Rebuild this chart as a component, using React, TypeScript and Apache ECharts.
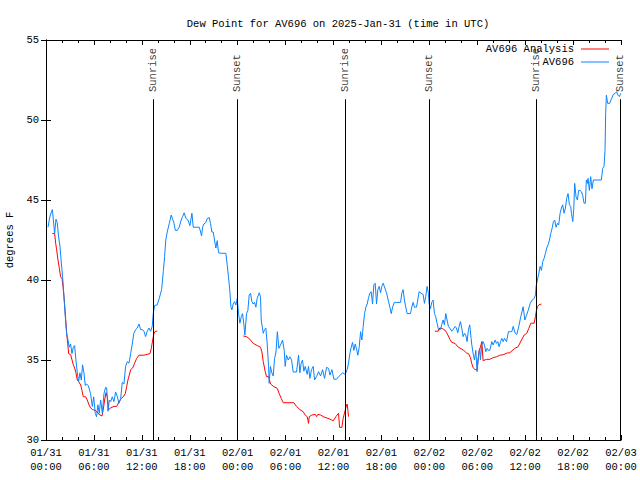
import React, { useEffect, useRef } from "react";
import * as echarts from "echarts";

const TITLE = "Dew Point for AV696 on 2025-Jan-31 (time in UTC)";
const Y_NAME = "degrees F";

// x values are hours since 2025-01-31 00:00 UTC
const xTickLabels = [
  "01/31\n00:00", "01/31\n06:00", "01/31\n12:00", "01/31\n18:00",
  "02/01\n00:00", "02/01\n06:00", "02/01\n12:00", "02/01\n18:00",
  "02/02\n00:00", "02/02\n06:00", "02/02\n12:00", "02/02\n18:00",
  "02/03\n00:00",
];

const sunHours = [13.43, 23.95, 37.46, 47.98, 61.37, 71.92];
const sunLabels = ["Sunrise", "Sunset", "Sunrise", "Sunset", "Sunrise", "Sunset"];

const analysisSeg1 = [
  [0.8, 42.9], [1.08, 42.9], [1.21, 42.3], [1.33, 41.9], [1.5, 41.25], [1.67, 40.73], [1.83, 40.2], [2.0, 40.1],
  [2.13, 39.6], [2.25, 38.96], [2.38, 38.1], [2.5, 37.3], [2.59, 36.67], [2.71, 36.04], [2.84, 35.4], [3.09, 35.33],
  [3.26, 35.0], [3.42, 34.7], [3.59, 34.5], [3.75, 34.2], [3.92, 33.75], [4.09, 33.65], [4.34, 33.44], [4.5, 33.1],
  [4.67, 32.7], [4.96, 32.7], [5.17, 32.5], [5.34, 32.25], [5.59, 32.0], [5.84, 31.9], [6.26, 31.83], [6.51, 31.67],
  [6.76, 31.56], [7.01, 31.5], [7.17, 31.9], [7.34, 32.5], [7.51, 32.96], [7.68, 32.7], [7.84, 31.9], [8.09, 32.0],
  [8.51, 32.1], [8.84, 32.1], [9.01, 32.25], [9.18, 32.4], [9.43, 32.6], [9.68, 32.7], [9.93, 32.9], [10.1, 33.33],
  [10.26, 33.75], [10.43, 34.06], [10.6, 34.4], [10.85, 34.5], [11.1, 34.8], [11.35, 35.1], [11.64, 35.3], [12.27, 35.3],
  [13.02, 35.4], [13.19, 35.73], [13.36, 36.25], [13.52, 36.67], [13.69, 36.8], [13.94, 36.8],
];
const analysisSeg2 = [
  [24.7, 36.5], [25.11, 36.46], [25.53, 36.3], [25.95, 36.04], [26.45, 35.9], [26.87, 35.8], [27.03, 35.52], [27.2, 34.9],
  [27.45, 34.27], [27.62, 33.96], [27.87, 33.96], [28.12, 33.5], [28.54, 33.33], [28.96, 33.23], [29.2, 32.9], [29.46, 32.6],
  [29.7, 32.33], [31.04, 32.33], [31.37, 32.1], [31.79, 31.9], [32.2, 31.77], [32.46, 31.56], [32.71, 31.46], [32.87, 31.04],
  [32.96, 31.46], [33.29, 31.56], [33.71, 31.6], [33.88, 31.46], [34.04, 31.6], [34.38, 31.56], [34.8, 31.44], [35.3, 31.35],
  [35.72, 31.27], [35.97, 31.2], [36.3, 31.46], [36.63, 31.67], [36.76, 30.79], [37.05, 30.79], [37.21, 31.35], [37.46, 31.85],
  [37.55, 32.04], [37.71, 32.25], [37.8, 31.85], [37.88, 31.46],
];
const analysisSeg3 = [
  [48.69, 36.8], [49.1, 36.8], [49.31, 37.0], [49.64, 36.96], [49.93, 36.88], [50.14, 36.73], [50.39, 36.5], [50.56, 36.3],
  [50.81, 36.1], [51.22, 36.04], [51.56, 35.83], [51.98, 35.7], [52.31, 35.6], [52.65, 35.44], [52.9, 35.4], [53.15, 35.15],
  [53.32, 34.77], [53.48, 34.52], [53.73, 34.4], [53.98, 34.4], [54.1, 35.0], [54.23, 35.6], [54.4, 35.8], [54.57, 36.15],
  [54.73, 34.96], [55.15, 35.04], [55.57, 35.04], [55.99, 35.15], [56.41, 35.2], [56.83, 35.3], [57.24, 35.33], [57.74, 35.44],
  [58.07, 35.45], [58.7, 35.73], [59.12, 35.83], [59.54, 36.25], [59.87, 36.56], [60.2, 36.67], [60.46, 36.98], [60.71, 37.3],
  [61.12, 37.3], [61.29, 37.71], [61.41, 38.1], [61.54, 38.33], [61.7, 38.44], [62.04, 38.5],
];

const stationData = [
  [0.25, 43.3], [0.5, 44.0], [0.8, 44.4], [0.92, 43.75], [1.08, 42.9], [1.25, 43.8], [1.4, 43.6], [1.58, 42.7], [1.75, 42.1],
  [1.92, 41.06], [2.08, 40.2], [2.25, 38.96], [2.42, 37.7], [2.58, 36.67], [2.75, 36.25], [2.92, 35.8], [3.08, 36.0], [3.25, 35.4],
  [3.42, 35.8], [3.58, 35.9], [3.75, 35.0], [3.92, 34.2], [4.08, 33.65], [4.25, 34.2], [4.42, 33.75], [4.58, 34.7], [4.75, 34.2],
  [4.92, 33.4], [5.08, 33.5], [5.3, 33.4], [5.58, 32.9], [5.8, 32.1], [5.97, 32.7], [6.17, 31.67], [6.33, 31.45], [6.5, 32.2],
  [6.67, 31.67], [6.84, 32.5], [7.05, 31.7], [7.26, 32.9], [7.47, 33.3], [7.6, 33.25], [7.76, 31.8], [7.93, 32.5], [8.1, 32.4],
  [8.3, 32.7], [8.5, 32.4], [8.72, 33.0], [8.93, 32.7], [9.14, 32.3], [9.35, 32.6], [9.55, 33.6], [9.76, 33.5], [9.97, 34.6],
  [10.18, 34.9], [10.39, 34.8], [10.6, 35.4], [10.8, 36.0], [11.0, 36.67], [11.22, 36.9], [11.43, 37.0], [11.64, 37.25],
  [11.85, 36.9], [12.06, 36.9], [12.27, 36.8], [12.47, 36.46], [12.68, 36.8], [12.89, 37.0], [13.1, 36.8], [13.3, 37.1],
  [13.43, 37.9], [13.6, 38.4], [13.93, 38.45], [14.18, 38.85], [14.48, 39.4], [14.7, 40.6], [14.85, 41.46], [15.0, 42.5],
  [15.18, 43.0], [15.44, 43.54], [15.68, 44.06], [15.85, 43.8], [16.0, 43.6], [16.2, 43.1], [16.43, 43.1], [16.68, 43.3],
  [16.93, 43.75], [17.1, 43.96], [17.3, 44.2], [17.52, 43.85], [17.77, 43.75], [18.02, 43.4], [18.27, 44.17], [18.44, 43.3],
  [18.86, 43.3], [19.19, 43.3], [19.36, 43.0], [19.48, 42.75], [19.61, 43.3], [19.77, 43.5], [20.02, 43.6], [20.19, 43.85],
  [20.44, 43.9], [20.6, 43.54], [20.77, 43.0], [20.94, 43.0], [21.1, 42.5], [21.27, 42.0], [21.44, 42.46], [21.6, 41.7],
  [21.98, 41.67], [22.52, 41.67], [22.7, 40.9], [22.85, 40.2], [23.03, 39.27], [23.15, 38.33], [23.28, 38.13], [23.44, 38.5],
  [23.61, 38.65], [23.78, 38.44], [23.95, 38.85], [24.11, 37.9], [24.28, 37.3], [24.45, 37.7], [24.61, 37.9], [24.78, 37.2],
  [24.9, 36.56], [25.11, 37.9], [25.28, 38.1], [25.44, 39.06], [25.61, 39.17], [25.78, 38.65], [25.94, 38.5], [26.11, 38.6],
  [26.28, 38.3], [26.44, 38.85], [26.7, 39.2], [26.86, 38.96], [26.95, 37.5], [27.2, 36.67], [27.36, 36.9], [27.53, 37.0],
  [27.7, 36.0], [27.87, 34.6], [27.95, 33.54], [28.1, 34.6], [28.28, 34.2], [28.45, 34.0], [28.62, 35.1], [28.8, 35.5],
  [28.97, 36.77], [29.16, 35.73], [29.37, 35.94], [29.62, 36.25], [29.83, 35.6], [29.95, 34.6], [30.12, 35.3], [30.33, 35.0],
  [30.54, 35.2], [30.75, 35.0], [30.95, 34.25], [31.37, 34.25], [31.62, 35.3], [31.79, 34.2], [31.95, 34.8], [32.12, 35.0],
  [32.29, 34.3], [32.46, 34.6], [32.71, 34.1], [32.87, 34.6], [33.04, 33.85], [33.25, 34.4], [33.46, 34.6], [33.63, 33.75],
  [33.88, 33.96], [34.13, 34.27], [34.38, 34.0], [34.63, 34.4], [34.88, 33.85], [35.13, 34.54], [35.38, 34.48], [35.55, 34.06],
  [35.8, 34.4], [36.05, 33.8], [36.38, 33.8], [36.63, 33.96], [36.88, 34.06], [37.13, 34.2], [37.46, 34.1], [37.71, 34.4],
  [37.88, 34.8], [38.05, 35.4], [38.22, 35.8], [38.38, 36.1], [38.55, 35.6], [38.72, 36.0], [38.88, 35.7], [39.05, 35.3],
  [39.22, 35.8], [39.39, 36.77], [39.55, 36.25], [39.72, 37.1], [39.89, 37.9], [40.05, 38.3], [40.22, 38.5], [40.39, 38.9],
  [40.55, 39.17], [40.72, 39.27], [40.89, 38.5], [41.05, 39.7], [41.22, 39.8], [41.39, 38.5], [41.55, 39.4], [41.72, 39.6],
  [41.89, 39.2], [42.05, 39.6], [42.22, 39.8], [42.43, 39.5], [42.64, 39.2], [42.85, 38.75], [43.06, 38.3], [43.23, 37.9],
  [43.4, 38.3], [43.6, 38.6], [43.9, 38.6], [44.4, 38.6], [44.55, 39.17], [44.72, 39.4], [44.88, 38.75], [45.05, 38.3],
  [45.22, 37.9], [45.64, 37.9], [45.8, 38.3], [45.97, 38.6], [46.14, 38.3], [46.39, 38.3], [46.55, 38.75], [46.72, 39.27],
  [46.97, 39.17], [47.22, 39.1], [47.39, 38.54], [47.55, 38.96], [47.72, 39.6], [47.89, 39.17], [47.97, 38.54], [48.14, 38.2],
  [48.3, 38.6], [48.47, 38.75], [48.64, 37.9], [48.8, 37.7], [48.97, 37.3], [49.14, 36.9], [49.39, 36.9], [49.55, 37.2],
  [49.72, 37.5], [49.89, 37.2], [50.06, 37.9], [50.22, 37.5], [50.39, 37.1], [50.56, 37.0], [50.81, 36.8], [50.97, 36.9],
  [51.22, 37.1], [51.39, 37.0], [51.56, 36.7], [51.73, 37.1], [51.89, 37.4], [52.06, 37.0], [52.23, 36.46], [52.4, 36.67],
  [52.56, 36.56], [52.73, 36.15], [52.9, 36.9], [53.06, 37.2], [53.23, 36.35], [53.32, 35.94], [53.48, 35.42], [53.65, 35.0],
  [53.82, 35.6], [53.98, 34.27], [54.15, 35.2], [54.32, 35.73], [54.4, 35.0], [54.57, 35.94], [54.73, 36.15], [54.9, 35.94],
  [55.07, 35.52], [55.24, 35.73], [55.4, 35.6], [55.57, 35.6], [55.82, 36.15], [55.99, 35.94], [56.24, 36.25], [56.41, 36.04],
  [56.57, 36.15], [56.74, 35.83], [56.91, 36.15], [57.08, 36.35], [57.24, 36.15], [57.41, 36.35], [57.66, 36.15], [57.91, 36.77],
  [58.16, 36.77], [58.33, 36.77], [58.5, 37.1], [58.75, 36.67], [58.95, 36.6], [59.2, 37.1], [59.45, 37.7], [59.75, 38.33],
  [59.96, 37.5], [60.17, 37.8], [60.38, 38.1], [60.63, 38.54], [60.88, 38.75], [61.13, 38.85], [61.29, 39.06], [61.37, 39.6],
  [61.53, 40.0], [61.7, 40.4], [61.87, 40.85], [62.04, 40.6], [62.2, 41.15], [62.37, 41.35], [62.54, 41.67], [62.7, 42.0],
  [62.87, 42.2], [63.04, 42.5], [63.2, 42.9], [63.37, 43.23], [63.54, 43.65], [63.7, 43.75], [63.87, 43.3], [64.04, 43.54],
  [64.2, 43.44], [64.37, 44.17], [64.54, 44.5], [64.7, 44.7], [64.87, 44.17], [65.04, 44.5], [65.2, 45.1], [65.37, 45.4],
  [65.54, 44.7], [65.7, 44.6], [65.79, 44.17], [65.96, 43.65], [66.08, 44.4], [66.2, 46.04], [66.37, 45.2], [66.54, 45.0],
  [66.7, 45.6], [66.87, 45.6], [67.04, 45.52], [67.2, 45.3], [67.37, 44.8], [67.54, 44.8], [67.66, 46.25], [67.79, 46.04],
  [67.87, 46.35], [68.04, 45.6], [68.2, 46.46], [68.37, 45.7], [68.54, 46.25], [69.54, 46.25], [69.71, 46.98], [69.87, 47.1],
  [70.0, 48.1], [70.08, 50.4], [70.17, 51.56], [70.33, 51.04], [70.58, 51.04], [70.79, 51.3], [71.04, 51.6], [71.29, 51.67],
  [71.45, 51.77], [71.6, 51.56], [71.8, 51.46], [71.97, 51.67],
];

const SUN_LINE_TOP = 51.3;
const SUN_LABEL_Y = 51.75;
const FONT = "'Liberation Mono', 'DejaVu Sans Mono', monospace";

export default function App() {
  const ref = useRef<HTMLDivElement>(null);
  useEffect(() => {
    if (!ref.current) return;
    const chart = echarts.init(ref.current, null, { renderer: "svg" });
    const gap: any = ["-", "-"];
    const analysisData = [...analysisSeg1, gap, ...analysisSeg2, gap, ...analysisSeg3];
    const txt = { fontFamily: FONT, fontSize: 10.5, color: "#000" };
    const axisX = (pos: "bottom" | "top", labels: boolean) => ({
      type: "value",
      position: pos,
      min: 0,
      max: 72,
      interval: 6,
      axisLine: { show: true, lineStyle: { color: "#000", width: 1 } },
      axisTick: { show: true, inside: true, length: 5, lineStyle: { color: "#000" } },
      minorTick: { show: true, splitNumber: 3, length: 3, lineStyle: { color: "#000" } },
      splitLine: { show: false },
      minorSplitLine: { show: false },
      axisLabel: {
        show: labels,
        ...txt,
        lineHeight: 14,
        margin: 6,
        hideOverlap: false,
        formatter: (v: number) => xTickLabels[Math.round(v / 6)] ?? "",
      },
    });
    const axisY = (pos: "left" | "right", labels: boolean) => ({
      type: "value",
      position: pos,
      min: 30,
      max: 55,
      interval: 5,
      name: labels ? Y_NAME : "",
      nameLocation: "middle",
      nameGap: 30,
      nameTextStyle: { ...txt },
      axisLine: { show: true, lineStyle: { color: "#000", width: 1 } },
      axisTick: { show: true, inside: true, length: 5, lineStyle: { color: "#000" } },
      splitLine: { show: false },
      axisLabel: { show: labels, ...txt, margin: 7 },
    });
    const legendBase = {
      orient: "vertical",
      right: 31,
      padding: 0,
      itemWidth: 28,
      itemHeight: 1,
      itemGap: 0,
      icon: "rect",
      align: "right",
      textStyle: { ...txt, lineHeight: 12, padding: [0, 2, 0, 0] },
    };
    chart.setOption({
      animation: false,
      backgroundColor: "#fff",
      title: {
        text: TITLE,
        left: 333,
        top: 13,
        textAlign: "center",
        textStyle: { ...txt, fontWeight: "normal" },
      },
      legend: [
        { ...legendBase, top: 43, data: ["AV696 Analysis"] },
        { ...legendBase, top: 56, data: ["AV696"] },
      ],
      grid: {
        left: 46,
        right: 19,
        top: 40,
        bottom: 40,
        show: false,
        containLabel: false,
        outerBoundsMode: "none",
      },
      xAxis: [axisX("bottom", true), axisX("top", false)],
      yAxis: [axisY("left", true), axisY("right", false)],
      series: [
        {
          name: "sun",
          type: "scatter",
          symbolSize: 0,
          clip: false,
          silent: true,
          data: sunHours.map((h) => [h, SUN_LABEL_Y]),
          label: {
            show: true,
            position: "inside",
            rotate: 90,
            align: "left",
            verticalAlign: "middle",
            ...txt,
            formatter: (p: any) => sunLabels[p.dataIndex],
          },
          markLine: {
            silent: true,
            symbol: ["none", "none"],
            label: { show: false },
            lineStyle: { color: "#000", width: 1, type: "solid" },
            data: sunHours.map((h) => [{ coord: [h, SUN_LINE_TOP] }, { coord: [h, 30] }]),
          },
        },
        {
          name: "AV696 Analysis",
          type: "line",
          data: analysisData,
          showSymbol: false,
          connectNulls: false,
          lineStyle: { color: "#ff0000", width: 1 },
          itemStyle: { color: "#ff0000" },
        },
        {
          name: "AV696",
          type: "line",
          data: stationData,
          showSymbol: false,
          lineStyle: { color: "#0a84ff", width: 1 },
          itemStyle: { color: "#0a84ff" },
        },
      ],
    });
    return () => chart.dispose();
  }, []);
  return (
    <div
      ref={ref}
      style={{ position: "fixed", left: 0, top: 0, width: 640, height: 480, background: "#fff" }}
    />
  );
}
